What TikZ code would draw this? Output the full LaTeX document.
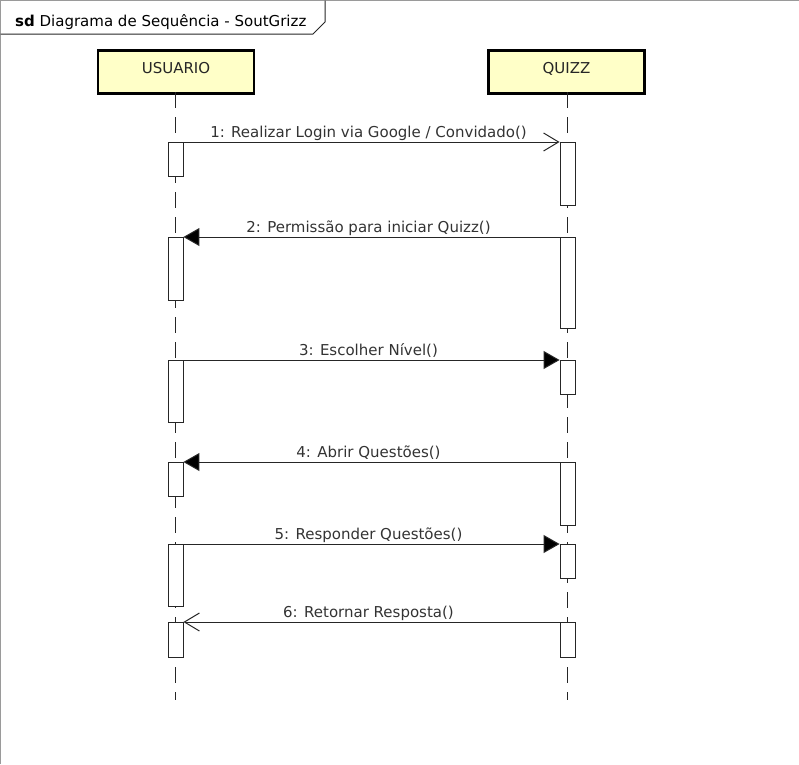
\documentclass[tikz,border=0pt]{standalone}
\usepackage{fontspec}
\setmainfont{DejaVu Sans}
\usetikzlibrary{arrows.meta}
\definecolor{headfill}{HTML}{FFFFC8}
\definecolor{linegray}{HTML}{262626}
\definecolor{framegray}{HTML}{9A9A9A}
\tikzset{
  headbox/.style={draw=black, line width=2.6pt, fill=headfill, minimum width=156pt, minimum height=43pt, inner sep=0pt, text height=11pt, text depth=8pt, font=\fontsize{15}{17}\selectfont, text=black!85, anchor=north},
  actbox/.style={draw=linegray, line width=0.9pt, fill=white, minimum width=15pt, inner sep=0pt, anchor=north},
  lifeline/.style={draw=linegray, line width=1.2pt, dash pattern=on 16pt off 9pt},
  msgsync/.style={draw=linegray, line width=1pt, -{Triangle[length=16pt,width=18pt,fill=black]}},
  msgopen/.style={draw=linegray, line width=1pt, -{Straight Barb[length=15pt,width=18pt,line width=1pt]}},
  msglabel/.style={font=\fontsize{15}{17}\selectfont, text=black!80, anchor=base, inner sep=0pt},
}
\begin{document}
\begin{tikzpicture}[x=1pt,y=-1pt]
\useasboundingbox (0,0) rectangle (799,764);
% frame
\draw[framegray, line width=1pt] (0.5,764) -- (0.5,0.5) -- (799,0.5);
\draw[linegray, line width=1pt] (0.5,34) -- (313,34) -- (325,22) -- (325,0.5);
\node[anchor=base west, inner sep=0pt, font=\fontsize{15}{17}\selectfont] (title) at (15,26) {\textbf{sd} Diagrama de Sequência - SoutGrizz};
% heads
\node[headbox] (usr) at (176,49) {USUARIO};
\node[headbox] (qz) at (566.5,49) {QUIZZ};
\coordinate (usrend) at (175.5,700);
\coordinate (qzend) at (567.5,700);
\draw[lifeline] (175.5,92) -- (usrend);
\draw[lifeline] (567.5,92) -- (qzend);
% activation boxes (USUARIO)
\node[actbox, minimum height=34pt] (u1) at (175.5,142) {};
\node[actbox, minimum height=63pt] (u2) at (175.5,237) {};
\node[actbox, minimum height=62pt] (u3) at (175.5,360) {};
\node[actbox, minimum height=34pt] (u4) at (175.5,462) {};
\node[actbox, minimum height=62pt] (u5) at (175.5,544) {};
\node[actbox, minimum height=35pt] (u6) at (175.5,622) {};
% activation boxes (QUIZZ)
\node[actbox, minimum height=63pt] (q1) at (567.5,142) {};
\node[actbox, minimum height=91pt] (q2) at (567.5,237) {};
\node[actbox, minimum height=34pt] (q3) at (567.5,360) {};
\node[actbox, minimum height=63pt] (q4) at (567.5,462) {};
\node[actbox, minimum height=34pt] (q5) at (567.5,544) {};
\node[actbox, minimum height=35pt] (q6) at (567.5,622) {};
% messages
\draw[msgopen] (u1.north east) -- (q1.north west);
\node[msglabel] (m1) at (368.5,137) {1: Realizar Login via Google / Convidado()};
\draw[msgsync] (q2.north west) -- (u2.north east);
\node[msglabel] (m2) at (368.5,232) {2: Permissão para iniciar Quizz()};
\draw[msgsync] (u3.north east) -- (q3.north west);
\node[msglabel] (m3) at (368.5,355) {3: Escolher Nível()};
\draw[msgsync] (q4.north west) -- (u4.north east);
\node[msglabel] (m4) at (368.5,457) {4: Abrir Questões()};
\draw[msgsync] (u5.north east) -- (q5.north west);
\node[msglabel] (m5) at (368.5,539) {5: Responder Questões()};
\draw[msgopen] (q6.north west) -- (u6.north east);
\node[msglabel] (m6) at (368.5,617) {6: Retornar Resposta()};
\end{tikzpicture}
\end{document}
